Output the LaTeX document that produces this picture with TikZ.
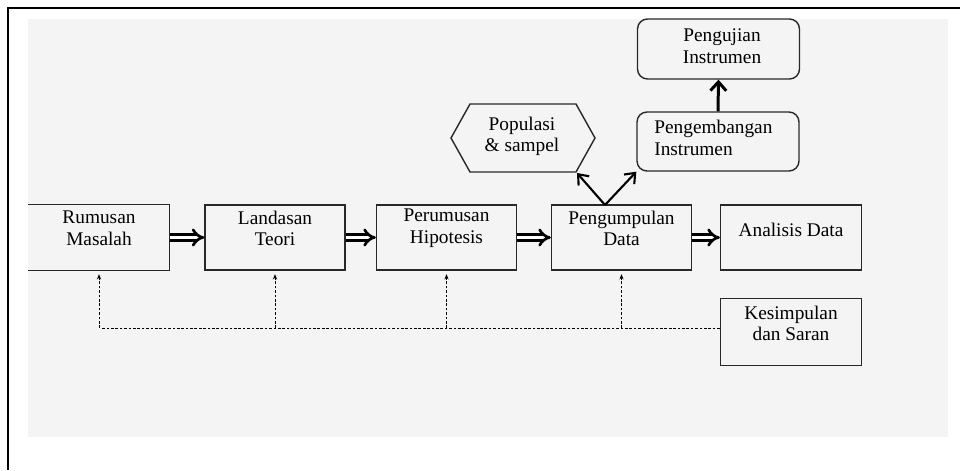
\documentclass[tikz,border=0pt]{standalone}
\usepackage{fontspec}
\setmainfont{Liberation Serif}
\usepackage{tikz}
\usetikzlibrary{calc,arrows.meta,positioning}
\definecolor{bgGray}{RGB}{244,244,244}
\definecolor{boxLine}{RGB}{40,40,40}

\begin{document}
\begin{tikzpicture}[x=0.02cm, y=-0.02cm, font=\fontsize{11}{12.3}\selectfont,
  box/.style={draw=boxLine, line width=0.8pt, minimum width=2.8cm, minimum height=1.3cm, inner sep=0pt},
  rbox/.style={draw=boxLine, line width=0.8pt, rounded corners=0.2cm, minimum width=3.24cm, minimum height=1.18cm, inner sep=0pt},
  txt/.style={align=center, inner sep=0pt},
  flow/.style={double, double distance=1.8pt, line width=1.5pt, -{Implies}},
  branch/.style={line width=1.2pt, -{Straight Barb[length=5pt,width=8pt]}},
  feedback/.style={line width=0.45pt, dash pattern=on 1.5pt off 1pt, -{Stealth[length=3pt,width=2.4pt]}, shorten >=2pt}]
\useasboundingbox (0,0) rectangle (960,470);
\fill[bgGray] (28,19) rectangle (948,437);
\draw[line width=1.4pt] (8,470) -- (8,8) -- (960,8);

% main row
\node[box, draw=none] (rumusan) at (99,237.5) {};
\draw[boxLine, line width=0.8pt] (rumusan.north west) -| (rumusan.south east) -- (rumusan.south west);
\node[box] (landasan) at (275,237.5) {};
\node[box] (perumusan) at (446.5,237.5) {};
\node[box] (pengumpulan) at (621.5,237.5) {};
\node[box, minimum width=2.82cm] (analisis) at (791,237.5) {};
\node[box, minimum width=2.82cm, minimum height=1.34cm] (kesimpulan) at (791,332) {};

\node[txt] (rumusanTxt) at (99,228.5) {Rumusan\\Masalah};
\node[txt] (landasanTxt) at (275,228.5) {Landasan\\Teori};
\node[txt] (perumusanTxt) at (446.5,228.5) {Perumusan\\Hipotesis};
\node[txt] (pengumpulanTxt) at (621.5,228.5) {Pengumpulan\\Data};
\node[txt] (analisisTxt) at (791,230) {Analisis Data};
\node[txt] (kesimpulanTxt) at (791,323.5) {Kesimpulan\\dan Saran};

% upper part
\draw[boxLine, line width=0.8pt] (451,138) -- (470,104) -- (576,104) -- (595,138) -- (576,172) -- (470,172) -- cycle;
\coordinate (popCorner) at (577,173);
\node[txt] (populasi) at (522,136.5) {Populasi\\\& sampel};
\node[rbox] (pengembangan) at (718,141.5) {};
\node[txt, anchor=west, align=left] (pengembanganTxt) at (654,138) {Pengembangan\\Instrumen};
\node[rbox, minimum height=1.2cm] (pengujian) at (718.5,49) {};
\node[txt] (pengujianTxt) at (722,46.5) {Pengujian\\Instrumen};

\draw[flow] (rumusan.east) -- (landasan.west);
\draw[flow] (landasan.east) -- (perumusan.west);
\draw[flow] (perumusan.east) -- (pengumpulan.west);
\draw[flow] (pengumpulan.east) -- (analisis.west);

\coordinate (split) at (605,205);
\draw[branch] (split) -- (popCorner);
\draw[branch] (split) -- (pengembangan.south west);
\draw[line width=1.7pt, -{Straight Barb[length=5pt,width=9pt]}] (pengembangan.north) -- (pengujian.south);

% feedback from Kesimpulan
\coordinate (fb) at (102,328);
\draw[line width=0.45pt, dash pattern=on 1.5pt off 1pt] (kesimpulan.west |- fb) -- (fb);
\foreach \n in {rumusan,landasan,perumusan,pengumpulan}
{
    \draw[feedback] (\n.south |- fb) -- (\n.south);
}
\end{tikzpicture}
\end{document}
